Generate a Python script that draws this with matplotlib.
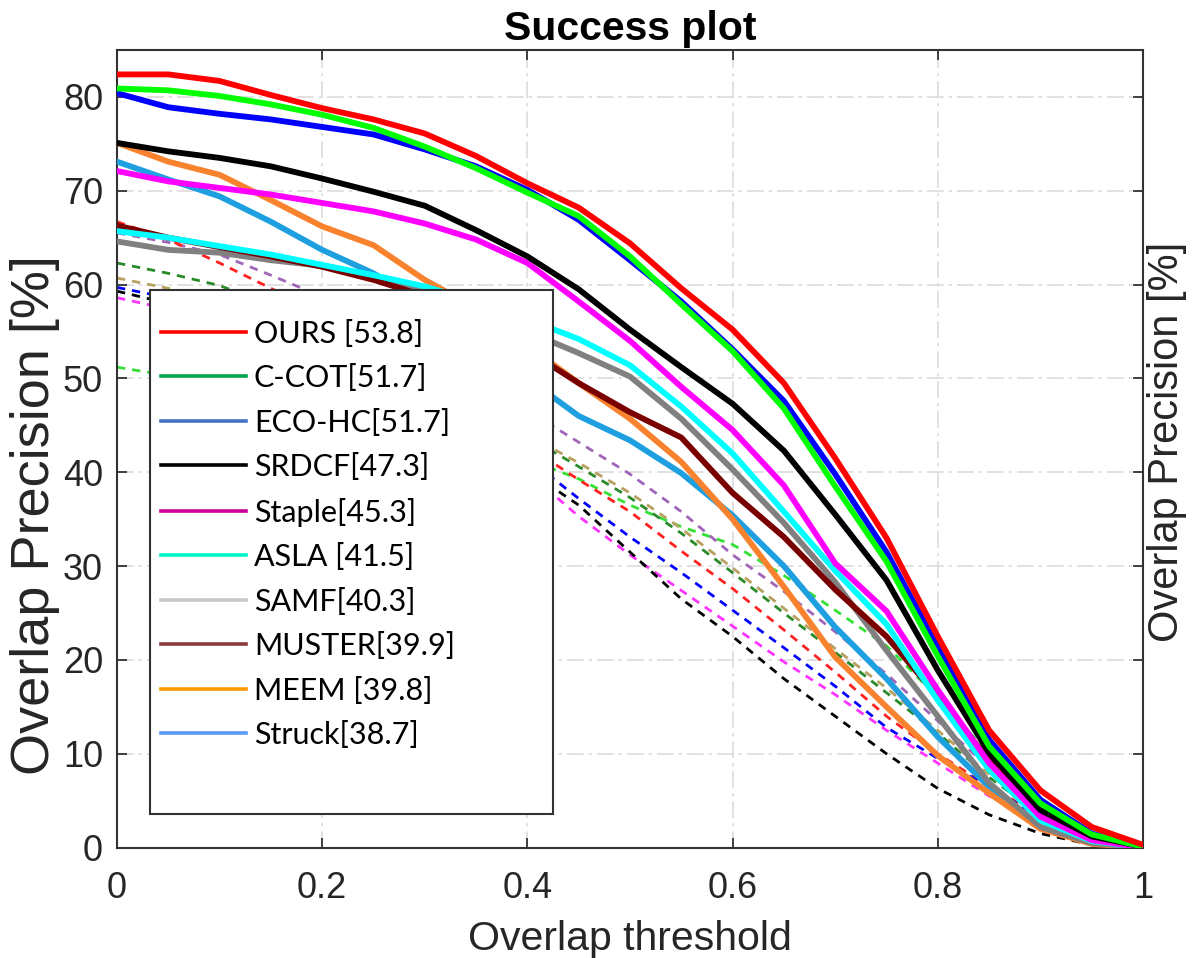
import numpy as np
import matplotlib
matplotlib.use("Agg")
import matplotlib.pyplot as plt
from matplotlib.lines import Line2D
from matplotlib.patches import Rectangle

# overlap thresholds shared by every curve
thr = np.round(np.arange(0, 1.0001, 0.05), 2)

# main trackers (success rate in %, one value per threshold)
ours   = [82.4, 82.4, 81.7, 80.2, 78.8, 77.6, 76.1, 73.7, 70.8, 68.2, 64.4, 59.6, 55.2, 49.5, 41.5, 33.0, 22.5, 12.5, 6.1, 2.2, 0.3]
ccot   = [80.9, 80.7, 80.1, 79.2, 78.1, 76.7, 74.7, 72.4, 69.8, 67.3, 63.0, 57.9, 52.9, 46.8, 38.5, 30.5, 20.4, 10.8, 4.7, 1.4, 0.1]
ecohc  = [80.4, 78.9, 78.2, 77.6, 76.8, 76.0, 74.4, 72.6, 70.1, 66.9, 62.6, 58.2, 53.1, 47.6, 39.8, 31.5, 21.4, 11.5, 5.1, 1.5, 0.1]
srdcf  = [75.1, 74.2, 73.5, 72.6, 71.3, 69.9, 68.4, 65.8, 63.0, 59.5, 55.2, 51.2, 47.3, 42.3, 35.5, 28.5, 18.9, 10.1, 4.0, 1.2, 0.1]
staple = [72.1, 71.0, 70.3, 69.6, 68.7, 67.8, 66.5, 64.8, 62.3, 58.2, 54.0, 49.1, 44.5, 38.6, 30.3, 25.2, 16.8, 9.0, 3.3, 0.8, 0.0]
asla   = [65.7, 65.0, 64.1, 63.2, 62.1, 61.0, 59.8, 58.2, 56.3, 54.2, 51.4, 47.0, 42.0, 35.8, 29.5, 23.8, 15.7, 8.3, 2.9, 0.7, 0.0]
samf   = [64.6, 63.7, 63.4, 62.6, 62.0, 60.8, 59.4, 57.6, 55.0, 52.7, 50.2, 45.7, 40.3, 34.6, 28.3, 21.0, 14.0, 6.9, 2.2, 0.5, 0.0]
muster = [66.3, 65.0, 64.0, 63.0, 61.9, 60.5, 58.8, 56.5, 53.0, 49.5, 46.4, 43.7, 37.8, 33.1, 27.5, 22.5, 16.1, 9.3, 3.5, 0.8, 0.0]
meem   = [75.1, 73.1, 71.7, 69.0, 66.2, 64.2, 60.5, 57.5, 53.5, 49.5, 45.7, 41.1, 35.0, 27.8, 20.3, 15.0, 9.8, 5.8, 2.0, 0.4, 0.0]
struck = [73.1, 71.2, 69.4, 66.7, 63.7, 61.2, 58.0, 54.5, 50.0, 46.0, 43.4, 39.9, 35.4, 30.0, 23.5, 18.0, 11.8, 6.5, 2.2, 0.5, 0.0]

# further trackers shown dashed, without legend entry
dash_red     = [66.7, 64.8, 62.3, 59.6, 57.0, 54.0, 50.5, 47.0, 42.8, 39.2, 35.8, 31.6, 27.6, 23.2, 18.7, 14.0, 10.0, 6.5, 3.5, 1.0, 0.0]
dash_purple  = [65.5, 64.5, 63.2, 61.0, 58.7, 55.8, 52.8, 49.8, 46.6, 43.2, 39.8, 35.8, 31.2, 27.3, 23.0, 18.5, 13.5, 8.5, 4.0, 1.2, 0.0]
dash_dkgreen = [62.3, 61.2, 59.9, 57.8, 55.5, 52.8, 50.0, 47.0, 43.8, 40.6, 37.3, 33.5, 29.3, 25.0, 20.8, 16.5, 12.2, 7.5, 3.5, 1.0, 0.0]
dash_olive   = [60.7, 59.6, 58.4, 56.8, 54.8, 52.4, 49.8, 47.0, 44.0, 41.0, 37.8, 34.0, 29.8, 25.5, 21.2, 17.0, 12.5, 7.8, 3.7, 1.1, 0.0]
dash_blue    = [59.7, 58.6, 57.3, 55.5, 53.3, 50.8, 48.0, 45.0, 41.5, 37.2, 33.1, 29.3, 25.3, 21.3, 17.2, 12.8, 9.5, 6.5, 3.2, 0.9, 0.0]
dash_magenta = [58.6, 57.4, 56.0, 54.2, 52.0, 49.5, 46.7, 43.7, 40.0, 35.3, 31.2, 27.4, 23.6, 19.8, 16.3, 12.5, 9.0, 5.5, 2.8, 0.8, 0.0]
dash_black   = [59.3, 58.0, 56.5, 54.7, 52.5, 49.8, 46.8, 43.5, 40.2, 36.5, 31.5, 26.5, 22.5, 18.0, 14.0, 10.0, 6.3, 3.5, 1.5, 0.3, 0.0]
dash_ltgreen = [51.2, 50.3, 49.2, 48.0, 46.8, 45.6, 44.3, 42.9, 41.4, 39.3, 36.5, 34.2, 32.3, 29.0, 25.3, 21.5, 16.0, 10.0, 4.5, 1.5, 0.0]

legend_labels = ["OURS [53.8]", "C-COT[51.7]", "ECO-HC[51.7]", "SRDCF[47.3]", "Staple[45.3]",
                 "ASLA [41.5]", "SAMF[40.3]", "MUSTER[39.9]", "MEEM [39.8]", "Struck[38.7]"]
legend_colors = ["#ff0000", "#00a550", "#4472c4", "#000000", "#cc0099",
                 "#00f5c8", "#c8c8c8", "#8b3a3a", "#ff9900", "#5b9bf8"]

fig = plt.figure(figsize=(11.99, 9.58), dpi=100)
ax = fig.add_axes([117 / 1199, 1 - 847.6 / 958, 1026 / 1199, 797.6 / 958])

dashed = [(dash_ltgreen, "#33e033"), (dash_purple, "#a064b8"), (dash_dkgreen, "#2a8a2a"),
          (dash_olive, "#b8a060"), (dash_red, "#ff2020"), (dash_blue, "#0000ff"),
          (dash_magenta, "#ff33ff"), (dash_black, "#000000")]
for vals, c in dashed:
    ax.plot(thr, vals, color=c, lw=2.0, dashes=(3.0, 2.5), zorder=2)

# bottom to top drawing order
solid = [(struck, "#1e9fe0"), (meem, "#f8822e"), (samf, "#808080"), (muster, "#7a0000"),
         (asla, "#00ffff"), (staple, "#ff00ff"), (srdcf, "#000000"), (ecohc, "#0000ff"),
         (ccot, "#00ff00"), (ours, "#ff0000")]
for vals, c in solid:
    ax.plot(thr, vals, color=c, lw=4.2, solid_capstyle="round", solid_joinstyle="round", zorder=3)

ax.set_xlim(0, 1)
ax.set_ylim(0, 85)
ax.set_xticks([0, 0.2, 0.4, 0.6, 0.8, 1])
ax.set_xticklabels(["0", "0.2", "0.4", "0.6", "0.8", "1"])
ax.set_yticks(np.arange(0, 81, 10))
ax.grid(True, color="#dcdcdc", lw=1.2, linestyle=(0, (10, 3, 2, 3)))
ax.set_axisbelow(True)
ax.tick_params(direction="in", length=7, width=1.3, top=True, right=True,
               labelsize=26, labelcolor="#262626", color="#333333")
ax.tick_params(axis="x", pad=17)
ax.tick_params(axis="y", pad=10)
for lbl in ax.get_xticklabels() + ax.get_yticklabels():
    lbl.set_family("Liberation Sans")
for sp in ax.spines.values():
    sp.set_color("#333333")
    sp.set_linewidth(1.5)

ax.set_title("Success plot", fontsize=29.5, fontweight="bold", family="Liberation Sans", pad=7)
ax.set_xlabel("Overlap threshold", fontsize=29.5, family="Liberation Sans", color="#262626", labelpad=10)
fig.text(35 / 1199, 1 - 255 / 958, "Overlap Precision [%]", rotation=90, ha="center", va="top",
         fontsize=39, family="Liberation Sans", color="#262626")
fig.text(1167 / 1199, 1 - 442 / 958, "Overlap Precision [%]", rotation=90, ha="center", va="center",
         fontsize=30, family="Liberation Sans", color="#262626")

# boxed legend
box = Rectangle((0.0322, 0.0421), 0.3928, 0.657, transform=ax.transAxes,
                facecolor="white", edgecolor="#333333", lw=1.5, zorder=5)
ax.add_patch(box)
handles = [Line2D([], [], color=c, lw=2.6) for c in legend_colors]
leg = ax.legend(handles, legend_labels, loc="upper left", bbox_to_anchor=(0.0429, 0.662),
                frameon=False, prop={"family": "Lato", "size": 22}, handlelength=2.78,
                handletextpad=0.26, labelspacing=0.54, borderpad=0, borderaxespad=0)
leg.set_zorder(6)

fig.savefig("out.png", dpi=100)
